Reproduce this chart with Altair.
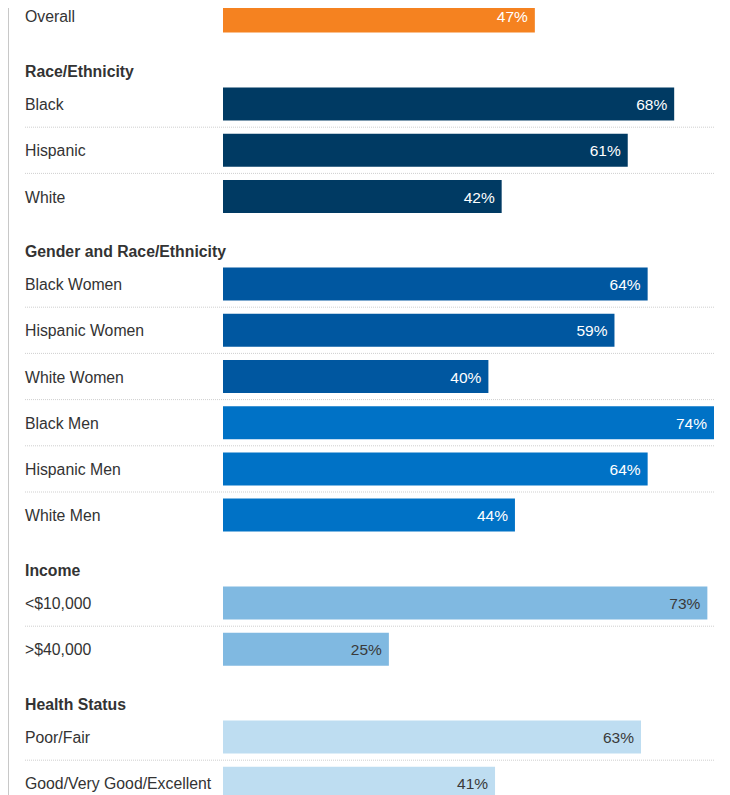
import altair as alt
import pandas as pd

# ---- data ----
labels_overall = ["Overall"]
values_overall = [47]
labels_race = ["Black", "Hispanic", "White"]
values_race = [68, 61, 42]
labels_gender = ["Black Women", "Hispanic Women", "White Women", "Black Men", "Hispanic Men", "White Men"]
values_gender = [64, 59, 40, 74, 64, 44]
tones_gender = ["Women", "Women", "Women", "Men", "Men", "Men"]
labels_income = ["<$10,000", ">$40,000"]
values_income = [73, 25]
labels_health = ["Poor/Fair", "Good/Very Good/Excellent"]
values_health = [63, 41]

tone_domain = ["Overall", "Race", "Women", "Men", "Income", "Health"]
tone_range = ["#F58220", "#003A63", "#0057A0", "#0072C6", "#80B9E1", "#BEDDF1"]
light_tones = ["Income", "Health"]

sections = [
    ("", labels_overall, values_overall, ["Overall"]),
    ("Race/Ethnicity", labels_race, values_race, ["Race"] * 3),
    ("Gender and Race/Ethnicity", labels_gender, values_gender, tones_gender),
    ("Income", labels_income, values_income, ["Income"] * 2),
    ("Health Status", labels_health, values_health, ["Health"] * 2),
]

STEP = 46.2
BAR_H = 33
W = 491
LABEL_X = -198
BORDER_X = -214.5
GAP = 41.0
FONT = "Liberation Sans"
TXT = "#333333"

xmax = max(values_overall + values_race + values_gender + values_income + values_health)


def panel(header, labels, values, tones):
    n = len(labels)
    h = n * STEP
    df = pd.DataFrame({
        "label": labels,
        "value": values,
        "tone": tones,
        "first": [i == 0 for i in range(n)],
    })
    base = alt.Chart(df)
    yscale = alt.Scale(domain=labels, paddingInner=0, paddingOuter=0)
    y = alt.Y("label:N", sort=labels, axis=None, scale=yscale)
    xs = alt.X("value:Q", axis=None, scale=alt.Scale(domain=[0, xmax], nice=False, zero=True))

    bars = base.mark_bar(height=BAR_H).encode(
        x=xs,
        y=y,
        color=alt.Color("tone:N", legend=None,
                        scale=alt.Scale(domain=tone_domain, range=tone_range)),
    )
    vals = base.transform_calculate(
        pct="format(datum.value, 'd') + '%'"
    ).mark_text(align="right", baseline="middle", dx=-7, dy=1, font=FONT, fontSize=15.5).encode(
        x=xs,
        y=y,
        text="pct:N",
        color=alt.condition(alt.FieldOneOfPredicate(field="tone", oneOf=light_tones),
                            alt.value("#3a3a3a"), alt.value("#ffffff")),
    )
    rowlab = base.mark_text(align="left", baseline="middle", dy=1, font=FONT, fontSize=15.8,
                            color=TXT).encode(
        x=alt.value(LABEL_X),
        y=y,
        text="label:N",
    )
    seps = base.transform_filter("!datum.first").mark_rule(
        color="#cfcfcf", strokeDash=[1, 1], strokeWidth=1
    ).encode(
        x=alt.value(LABEL_X),
        x2=alt.value(W),
        y=alt.Y("label:N", sort=labels, axis=None, scale=yscale, bandPosition=0),
    )
    border = base.mark_rule(color="#c8c8c8", strokeWidth=1).encode(
        x=alt.value(BORDER_X),
        y=alt.value(0),
        y2=alt.value(h + GAP + 1),
    )
    layers = [border, seps, bars, vals, rowlab]
    if header:
        head = alt.Chart(pd.DataFrame({"h": [header]})).mark_text(
            align="left", baseline="middle", font=FONT, fontSize=15.8, fontWeight="bold",
            color=TXT
        ).encode(x=alt.value(LABEL_X), y=alt.value(-9), text="h:N")
        layers.append(head)
    return alt.layer(*layers).properties(width=W, height=h)


chart = alt.vconcat(
    *[panel(*s) for s in sections], spacing=GAP, bounds="flush"
).properties(
    padding={"left": 0, "top": -16, "right": 0, "bottom": 0}
).configure_view(stroke=None)

chart.save("out.html", embed_options={"renderer": "svg", "actions": False})
